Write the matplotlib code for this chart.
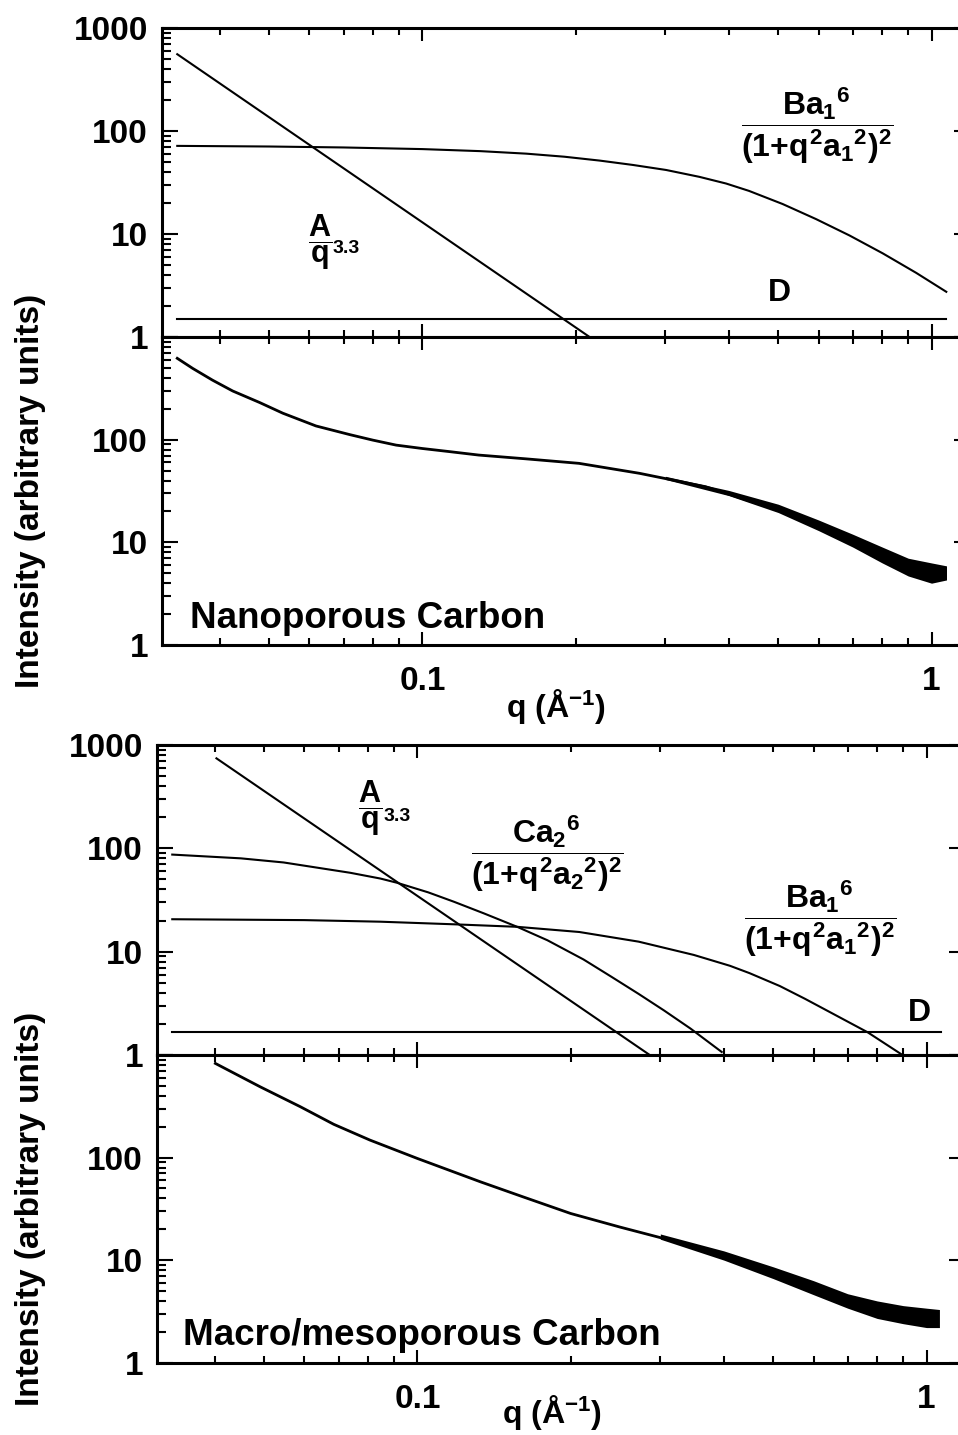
import matplotlib
matplotlib.use("Agg")
import matplotlib.pyplot as plt
from matplotlib.ticker import FixedLocator, FixedFormatter, LogLocator, NullFormatter

plt.rcParams["font.family"] = "Liberation Sans"
plt.rcParams["font.weight"] = "bold"
plt.rcParams["mathtext.fontset"] = "custom"
plt.rcParams["mathtext.rm"] = "Liberation Sans:bold"
plt.rcParams["mathtext.it"] = "Liberation Sans:bold"
plt.rcParams["mathtext.bf"] = "Liberation Sans:bold"
plt.rcParams["mathtext.sf"] = "Liberation Sans:bold"

# --- nanoporous carbon: fit components ---
nano_pow_q = [0.033, 0.213]
nano_pow_I = [560, 1.0]
nano_b_q = [0.033, 0.05, 0.07, 0.1, 0.13, 0.16, 0.19, 0.223, 0.259, 0.301, 0.35,
            0.395, 0.438, 0.51, 0.593, 0.69, 0.802, 0.933, 1.069]
nano_b_I = [72, 71, 69.5, 67, 64, 60.5, 56.5, 51.8, 47, 42, 36.0,
            31.0, 26.3, 19.6, 14.0, 9.7, 6.5, 4.2, 2.75]
nano_d_q = [0.033, 1.07]
nano_d_I = [1.49, 1.49]

# --- nanoporous carbon: measured curve ---
nano_q = [0.033, 0.0354, 0.0387, 0.0424, 0.0479, 0.0532, 0.0618, 0.072, 0.0799,
          0.0888, 0.1, 0.113, 0.129, 0.16, 0.203, 0.267, 0.36, 0.488, 0.659,
          0.826, 0.961, 1.05]
nano_I = [620, 494, 380, 298, 230, 181, 136, 112, 99,
          88.5, 82, 76.5, 70.8, 65, 58.8, 47, 34.8, 21.4, 12.2,
          7.8, 5.8, 5.2]
nano_band_q = [0.3, 0.4, 0.5, 0.6, 0.7, 0.8, 0.9, 1.0, 1.07]
nano_band_hi = [44, 32, 23.5, 16.5, 12, 9, 7, 6.3, 5.9]
nano_band_lo = [41, 28.5, 19.5, 13, 9, 6.3, 4.7, 4.0, 4.3]

# --- macro/mesoporous carbon: fit components ---
mac_pow_q = [0.0403, 0.286]
mac_pow_I = [743, 1.0]
mac_c_q = [0.033, 0.045, 0.0546, 0.0738, 0.0846, 0.0911, 0.105, 0.118, 0.135,
           0.157, 0.18, 0.212, 0.24, 0.272, 0.305, 0.344, 0.396]
mac_c_I = [87, 80, 73, 58, 51, 46.5, 37.5, 30.4, 23.5,
           17.4, 12.9, 8.4, 5.75, 3.9, 2.7, 1.8, 1.07]
mac_b_q = [0.033, 0.06, 0.0846, 0.118, 0.157, 0.208, 0.272, 0.349, 0.411,
           0.449, 0.515, 0.577, 0.646, 0.766, 0.897]
mac_b_I = [20.6, 20.2, 19.5, 18.4, 17.4, 15.5, 12.5, 9.3, 7.3,
           6.2, 4.65, 3.5, 2.6, 1.66, 1.0]
mac_d_q = [0.033, 1.07]
mac_d_I = [1.68, 1.68]

# --- macro/mesoporous carbon: measured curve ---
mac_q = [0.0401, 0.0491, 0.0589, 0.0685, 0.0807, 0.1, 0.133, 0.161, 0.2,
         0.25, 0.338, 0.444, 0.573, 0.718, 0.9, 1.047]
mac_I = [828, 490, 313, 211, 148, 98, 58, 41.5, 28.5,
         21.0, 14.2, 9.3, 6.0, 4.1, 3.1, 2.7]
mac_band_q = [0.3, 0.4, 0.5, 0.6, 0.7, 0.8, 0.9, 1.0, 1.06]
mac_band_hi = [18, 12.3, 8.6, 6.3, 4.7, 4.0, 3.6, 3.4, 3.3]
mac_band_lo = [16, 10.0, 6.6, 4.6, 3.4, 2.7, 2.4, 2.2, 2.2]

y_ticks = [1, 10, 100, 1000]
x_ticks = [0.1, 1]
x_ticklabels = ["0.1", "1"]

W, H = 958, 1435
fig = plt.figure(figsize=(W / 100, H / 100), dpi=100)


def add_ax(left, top, right, bottom):
    return fig.add_axes([left / W, 1 - bottom / H, (right - left) / W, (bottom - top) / H])


def style(ax, ylabels, xlabels):
    ax.set_xscale("log")
    ax.set_yscale("log")
    ax.set_xlim(0.0308, 1.19)
    ax.set_ylim(1, 1000)
    ax.yaxis.set_major_locator(FixedLocator(y_ticks))
    ax.yaxis.set_major_formatter(FixedFormatter(ylabels))
    ax.yaxis.set_minor_locator(LogLocator(base=10, subs=range(2, 10)))
    ax.yaxis.set_minor_formatter(NullFormatter())
    ax.xaxis.set_major_locator(FixedLocator(x_ticks))
    ax.xaxis.set_minor_locator(LogLocator(base=10, subs=range(2, 10)))
    ax.xaxis.set_minor_formatter(NullFormatter())
    if xlabels:
        ax.xaxis.set_major_formatter(FixedFormatter(x_ticklabels))
    ax.tick_params(which="both", direction="in", top=True, right=True, width=1.5,
                   labelbottom=xlabels)
    ax.tick_params(axis="y", which="major", length=11.5, labelsize=24, pad=10)
    ax.tick_params(axis="y", which="minor", length=6.5, right=False)
    ax.tick_params(axis="x", which="major", length=9.5, labelsize=24, pad=15)
    ax.tick_params(axis="x", which="minor", length=5)
    for s in ax.spines.values():
        s.set_linewidth(2.2)


ax1 = add_ax(162, 28.3, 970, 337)
ax2 = add_ax(162, 337, 970, 645)
ax3 = add_ax(157, 745, 965, 1055)
ax4 = add_ax(157, 1055, 965, 1362.7)

style(ax1, ["1", "10", "100", "1000"], False)
style(ax2, ["1", "10", "100", ""], True)
style(ax3, ["1", "10", "100", "1000"], False)
style(ax4, ["1", "10", "100", ""], True)

lw = 1.5
frac_b = r"$\dfrac{Ba_1{}^6}{(1{+}q^2a_1{}^2)^2}$"
frac_c = r"$\dfrac{Ca_2{}^6}{(1{+}q^2a_2{}^2)^2}$"
frac_a = r"$\dfrac{A}{q}$"

# top: nanoporous components
ax1.plot(nano_pow_q, nano_pow_I, color="black", lw=lw)
ax1.plot(nano_b_q, nano_b_I, color="black", lw=lw)
ax1.plot(nano_d_q, nano_d_I, color="black", lw=lw)
ax1.text(0.063, 8.3, frac_a, fontsize=22, ha="center", va="center")
ax1.text(0.0665, 7.2, "3.3", fontsize=14, ha="left", va="center")
ax1.text(0.597, 113, frac_b, fontsize=23, ha="center", va="center")
ax1.text(0.503, 2.65, "D", fontsize=23, ha="center", va="center")

# nanoporous data
ax2.fill_between(nano_band_q, nano_band_lo, nano_band_hi, color="black", lw=0)
ax2.plot(nano_q, nano_I, color="black", lw=2)
ax2.text(0.035, 0.055, "Nanoporous Carbon", transform=ax2.transAxes, fontsize=26.5,
         ha="left", va="baseline")

# macro/mesoporous components
ax3.plot(mac_pow_q, mac_pow_I, color="black", lw=lw)
ax3.plot(mac_c_q, mac_c_I, color="black", lw=lw)
ax3.plot(mac_b_q, mac_b_I, color="black", lw=lw)
ax3.plot(mac_d_q, mac_d_I, color="black", lw=lw)
ax3.text(0.0808, 243, frac_a, fontsize=22, ha="center", va="center")
ax3.text(0.0857, 205, "3.3", fontsize=14, ha="left", va="center")
ax3.text(0.18, 88, frac_c, fontsize=23, ha="center", va="center")
ax3.text(0.617, 21, frac_b, fontsize=23, ha="center", va="center")
ax3.text(0.97, 2.57, "D", fontsize=23, ha="center", va="center")

# macro/mesoporous data
ax4.fill_between(mac_band_q, mac_band_lo, mac_band_hi, color="black", lw=0)
ax4.plot(mac_q, mac_I, color="black", lw=2)
ax4.text(0.032, 0.0575, "Macro/mesoporous Carbon", transform=ax4.transAxes, fontsize=26.5,
         ha="left", va="baseline")

# shared axis labels
for yc in (491, 1209):
    fig.text(31 / W, 1 - yc / H, "Intensity (arbitrary units)", rotation=90,
             fontsize=24, ha="center", va="center")
fig.text(556 / W, 1 - 687 / H, r"q (Å$^{-1}$)", fontsize=23, ha="center", va="top")
fig.text(552 / W, 3 / H, r"q (Å$^{-1}$)", fontsize=23, ha="center", va="bottom")

fig.savefig("out.png", dpi=100)
